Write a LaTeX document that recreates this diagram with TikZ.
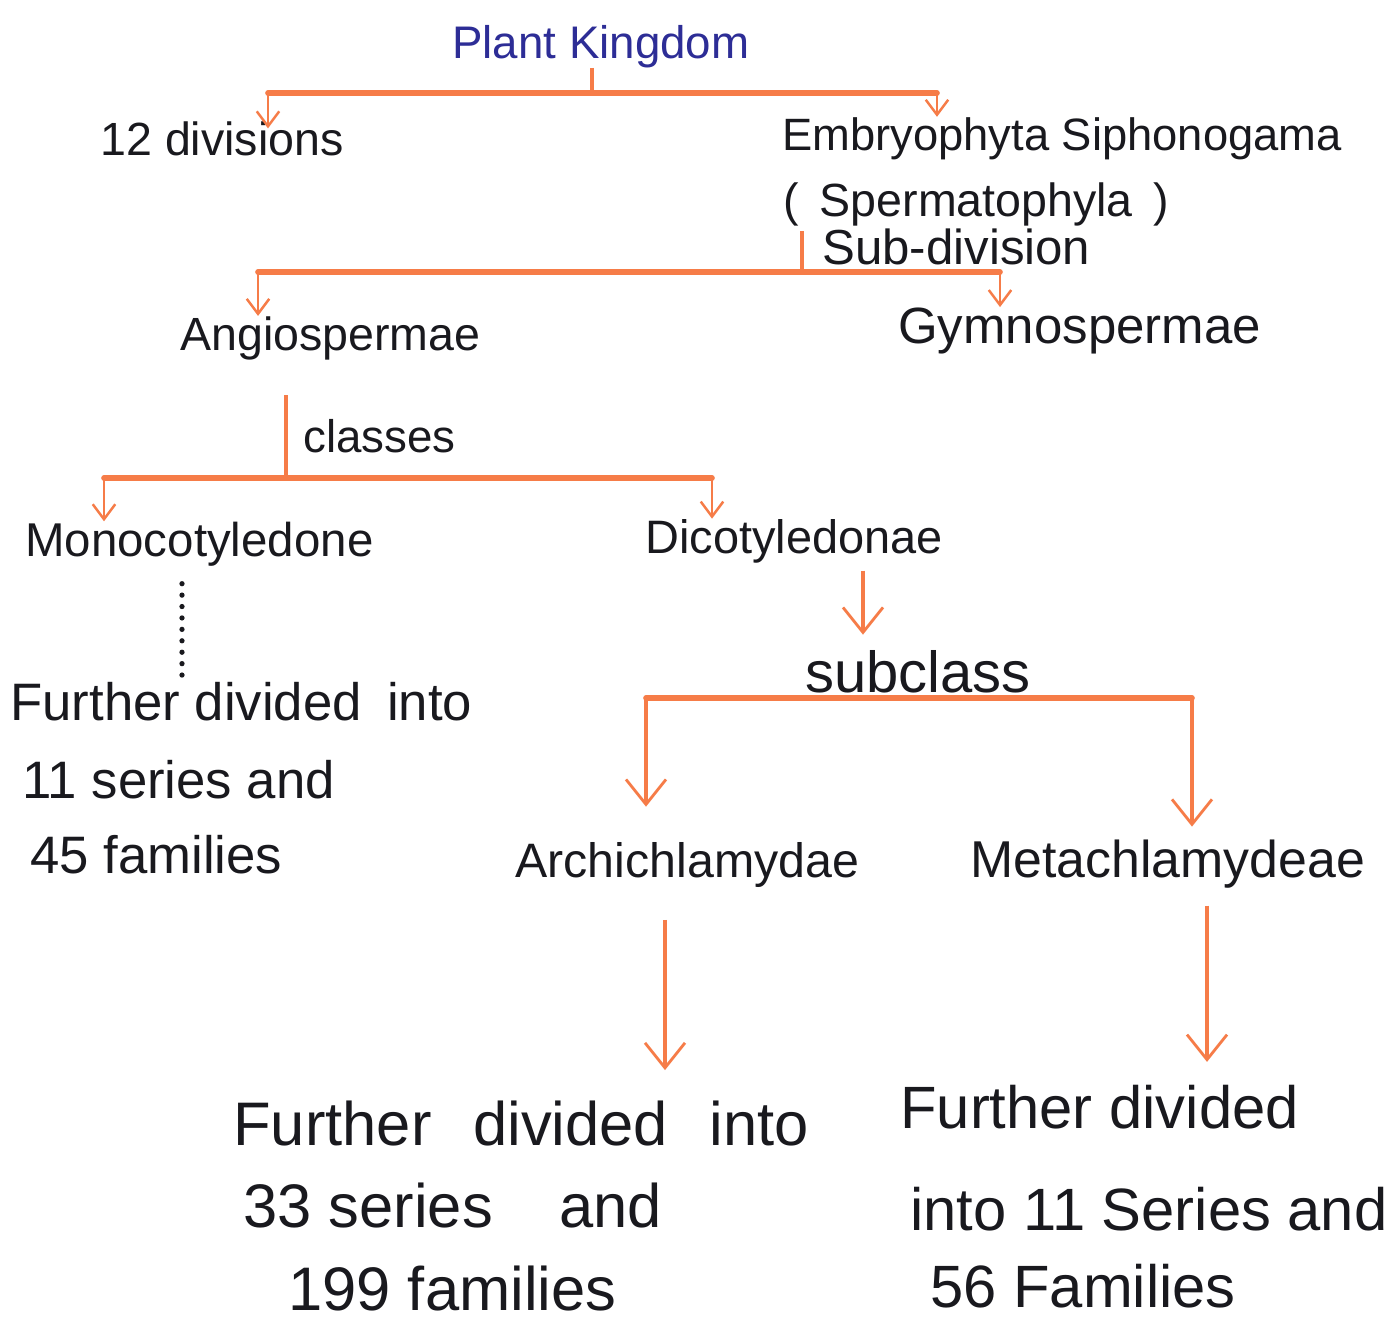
\documentclass[tikz,border=0pt]{standalone}
\usepackage{fontspec}
\setmainfont{Liberation Sans}
\usetikzlibrary{arrows.meta}
\definecolor{ink}{RGB}{25,25,30}
\definecolor{blueink}{RGB}{45,45,150}
\definecolor{orng}{RGB}{246,124,72}
\tikzset{
  txt/.style={inner sep=0pt, anchor=base west, text=ink, font=\fontsize{#1}{#1}\selectfont},
  bus/.style={draw=orng, line width=3.2pt, line cap=round},
  bar/.style={draw=orng, line width=1.8pt},
  sarr/.style={draw=orng, line width=1.6pt, -{Straight Barb[length=0.3cm,width=0.45cm,line width=1.4pt]}},
  barr/.style={draw=orng, line width=1.9pt, -{Straight Barb[length=0.5cm,width=0.8cm,line width=1.6pt]}},
  dots/.style={draw=ink, line width=3pt, line cap=round, dash pattern=on 0pt off 6.5pt}
}
\begin{document}
\begin{tikzpicture}[x=0.02cm,y=-0.02cm]
\useasboundingbox (0,0) rectangle (1394,1339);
\fill[white] (0,0) rectangle (1394,1339);

% texts
\node[txt=26, text=blueink] (pk) at (452,58) {Plant Kingdom};
\node[txt=26.5] (div) at (100,155) {12 divisions};
\node[txt=25.8] (emb) at (782,150) {Embryophyta Siphonogama};
\node[txt=26.5] (sperm) at (783,216) {(\hspace{0.45em}Spermatophyla\hspace{0.45em})};
\node[txt=28] (subdiv) at (822,264) {Sub-division};
\node[txt=26.5] (angio) at (180,350) {Angiospermae};
\node[txt=29] (gym) at (898,343) {Gymnospermae};
\node[txt=26] (cls) at (303,452) {classes};
\node[txt=27] (mono) at (25,556) {Monocotyledone};
\node[txt=26.7] (dico) at (645,553) {Dicotyledonae};
\node[txt=33] (subcl) at (805,692) {subclass};
\node[txt=27.5] (arch) at (515,877) {Archichlamydae};
\node[txt=29.5] (meta) at (970,877) {Metachlamydeae};

\node[txt=30] (mfa) at (10,720) {Further divided\hspace{0.2em} into};
\node[txt=30] (mfb) at (22,798) {11 series and};
\node[txt=30] (mfc) at (30,873) {45 families};

\node[txt=35] (afa) at (233,1145) {Further\hspace{0.4em} divided\hspace{0.4em} into};
\node[txt=35] (afb) at (243,1227) {33 series\hspace{0.8em} and};
\node[txt=35] (afc) at (288,1310) {199 families};

\node[txt=34] (rfa) at (900,1128) {Further divided};
\node[txt=34] (rfb) at (910,1230) {into 11 Series and};
\node[txt=34] (rfc) at (930,1307) {56 Families};

% bus junctions
\coordinate (b1m) at (592,93);
\coordinate (b1l) at (268,93);
\coordinate (b1r) at (937,93);
\coordinate (b2m) at (802,272);
\coordinate (b2l) at (258,272);
\coordinate (b2r) at (1000,272);
\coordinate (b3m) at (286,478);
\coordinate (b3l) at (104,478);
\coordinate (b3r) at (712,478);
\coordinate (b4l) at (646,698);
\coordinate (b4r) at (1192,698);
\coordinate (dx) at (182,0);
\coordinate (sx) at (863,0);
\coordinate (ax) at (665,0);
\coordinate (mx) at (1207,0);

% level 1
\draw[bar] (pk.south -| b1m) -- (b1m);
\draw[bus] (b1l) -- (b1r);
\draw[sarr] (b1l) -- ([yshift=-0.15cm]div.north -| b1l);
\draw[sarr] (b1r) -- (emb.north -| b1r);

% level 2
\draw[bar] ([yshift=-0.1cm]sperm.south -| b2m) -- (b2m);
\draw[bus] (b2l) -- (b2r);
\draw[sarr] (b2l) -- (angio.north -| b2l);
\draw[sarr] (b2r) -- (gym.north -| b2r);

% level 3
\draw[bar] ([yshift=-0.7cm]angio.south -| b3m) -- (b3m);
\draw[bus] (b3l) -- (b3r);
\draw[sarr] (b3l) -- (mono.north -| b3l);
\draw[sarr] (b3r) -- (dico.north -| b3r);

% monocot dotted
\draw[dots] ([yshift=-0.35cm]mono.south -| dx) -- (mfa.north -| dx);

% dicot
\draw[barr] ([yshift=-0.15cm]dico.south -| sx) -- ([yshift=0.3cm]subcl.north -| sx);
\draw[bus] (b4l) -- (b4r);
\draw[barr] (b4l) -- ([yshift=0.7cm]arch.north -| b4l);
\draw[barr] (b4r) -- ([yshift=0.25cm]meta.north -| b4r);

% bottom
\draw[barr] ([yshift=-0.65cm]arch.south -| ax) -- ([yshift=0.6cm]afa.north -| ax);
\draw[barr] ([yshift=-0.35cm]meta.south -| mx) -- ([yshift=0.45cm]rfa.north -| mx);
\end{tikzpicture}
\end{document}
